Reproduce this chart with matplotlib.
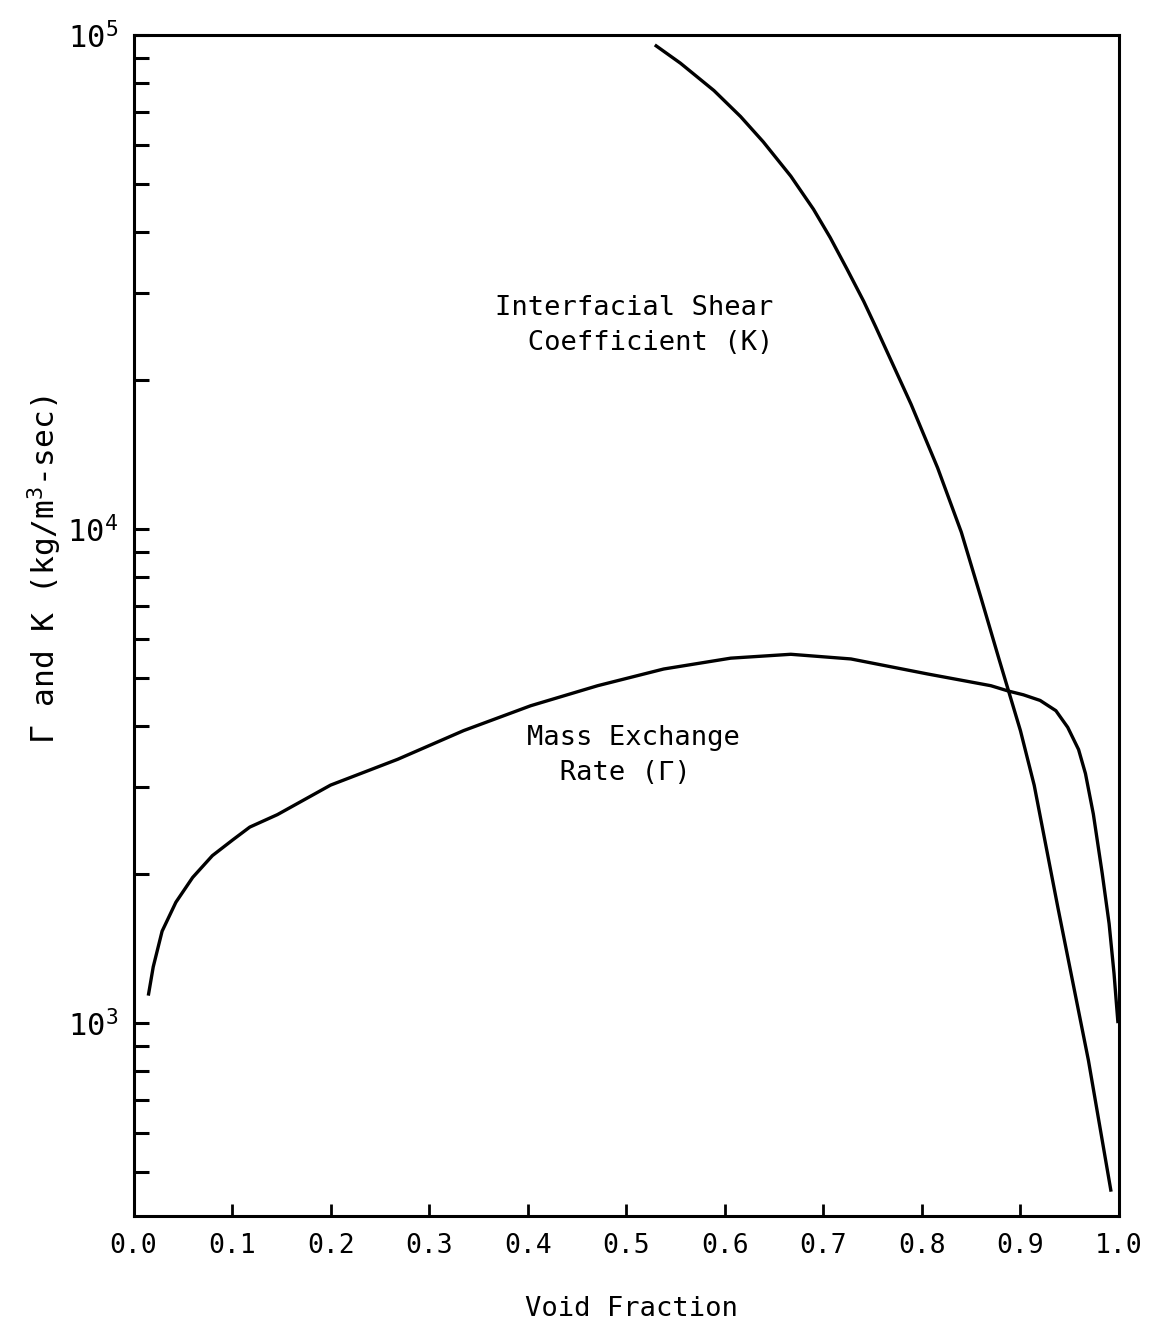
import numpy as np
import matplotlib
matplotlib.use("Agg")
import matplotlib.pyplot as plt
from matplotlib.ticker import LogLocator, NullFormatter

plt.rcParams['font.family'] = ['DejaVu Sans Mono', 'DejaVu Sans']
plt.rcParams['mathtext.fontset'] = 'custom'
plt.rcParams['mathtext.rm'] = 'DejaVu Sans Mono'
plt.rcParams['mathtext.it'] = 'DejaVu Sans Mono'

# mass exchange rate (Gamma)
gamma_x = [0.015, 0.020, 0.029, 0.043, 0.060, 0.080, 0.101, 0.118, 0.146, 0.200,
           0.268, 0.335, 0.403, 0.471, 0.538, 0.606, 0.667, 0.728, 0.806, 0.870,
           0.888, 0.903, 0.920, 0.936, 0.948, 0.959, 0.966, 0.974, 0.983, 0.990,
           0.995, 0.999]
gamma_y = [1137, 1300, 1535, 1757, 1972, 2183, 2352, 2494, 2643, 3033,
           3420, 3910, 4390, 4820, 5210, 5480, 5580, 5460, 5090, 4820,
           4700, 4620, 4500, 4290, 3970, 3580, 3200, 2650, 2010, 1590,
           1260, 1000]

# interfacial shear coefficient (K)
k_x = [0.529, 0.555, 0.589, 0.616, 0.639, 0.667, 0.690, 0.707, 0.724, 0.741,
       0.753, 0.789, 0.816, 0.840, 0.860, 0.878, 0.888, 0.900, 0.914, 0.938,
       0.969, 0.992]
k_y = [95500, 87700, 77200, 68400, 60800, 51800, 44400, 38900, 33600, 28900,
       25700, 17900, 13300, 9860, 7260, 5480, 4700, 3910, 3030, 1715,
       841, 456]

xticks = [0.0, 0.1, 0.2, 0.3, 0.4, 0.5, 0.6, 0.7, 0.8, 0.9, 1.0]

fig = plt.figure(figsize=(11.55, 13.27), dpi=100)
ax = fig.add_axes([0.1156, 0.0836, 0.8532, 0.890])

ax.plot(gamma_x, gamma_y, color='black', lw=2.4, solid_capstyle='butt',
        solid_joinstyle='round')
ax.plot(k_x, k_y, color='black', lw=2.4, solid_capstyle='butt',
        solid_joinstyle='round')

ax.set_yscale('log')
ax.set_xlim(0, 1.0)
ax.set_ylim(407, 1e5)

for s in ax.spines.values():
    s.set_linewidth(2.2)

ax.set_xticks(xticks)
ax.set_xticklabels(['%.1f' % v for v in xticks])
ax.set_yticks([1e3, 1e4, 1e5])
ax.yaxis.set_minor_locator(LogLocator(base=10, subs=np.arange(2, 10)))
ax.yaxis.set_minor_formatter(NullFormatter())

ax.tick_params(axis='y', which='both', direction='in', length=11, width=2.2,
               labelsize=22, pad=11)
ax.tick_params(axis='x', which='both', direction='in', length=8.5, width=2,
               labelsize=19, pad=12)
ax.tick_params(top=False, right=False)

ax.text(0.3665, 28000, 'Interfacial Shear', fontsize=19.5, ha='left', va='center')
ax.text(0.3665, 23800, '  Coefficient (K)', fontsize=19.5, ha='left', va='center')
ax.text(0.3995, 3770, 'Mass Exchange', fontsize=19.5, ha='left', va='center')
ax.text(0.3995, 3215, '  Rate (Γ)', fontsize=19.5, ha='left', va='center')

fig.text(0.547, 0.0136, 'Void Fraction', fontsize=19.5, ha='center', va='center')
fig.text(0.039, 0.571, 'Γ and K (kg/m$^{3}$-sec)', fontsize=22.5, rotation=90,
         ha='center', va='center')

fig.savefig('out.png', dpi=100)
